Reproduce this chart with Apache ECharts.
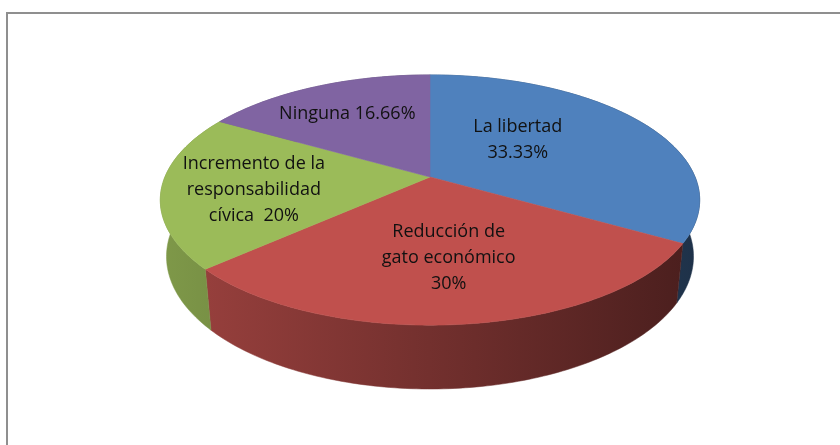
<!DOCTYPE html>
<html><head><meta charset="utf-8">
<script src="https://cdn.jsdelivr.net/npm/echarts@6/dist/echarts.min.js"></script>
<style>html,body{margin:0;padding:0;background:#fff}#c{width:840px;height:445px}</style>
</head><body><div id="c"></div>
<script>
// ---- data ----
const names = ['La libertad', 'Reducción de\ngato económico', 'Incremento de la\nresponsabilidad\ncívica', 'Ninguna'];
const values = [33.33, 30, 20, 16.66];
const valueSeparators = ['\n', '\n', '  ', ' '];

// ---- style / geometry ----
const colors = ['#4F81BD', '#C0504D', '#9BBB59', '#8064A2'];
const CX = 430, CY = 177;
const TS = 0.456, TC = 0.891, DIST = 4.84, FOCAL = 1283, THICK = 0.241;
const labelRadius = [0.48, 0.6, 0.66, 0.67];
const labelShift = [-13, 0, -3, -1];
const FONT = '18px "Open Sans", "Liberation Sans", sans-serif';

const total = values.reduce((a, b) => a + b, 0);
const starts = [];
values.reduce((acc, v, i) => { starts[i] = acc; return acc + v; }, 0);

function project(theta, r, z) {
  const a = theta * Math.PI / 180;
  const X = r * Math.sin(a), Y = r * Math.cos(a);
  const up = Y * TS + z * TC;
  const depth = DIST + Y * TC - z * TS;
  return [CX + FOCAL * X / depth, CY - FOCAL * up / depth];
}
function shade(hex, f) {
  const n = parseInt(hex.slice(1), 16);
  const r = Math.round(((n >> 16) & 255) * f), g = Math.round(((n >> 8) & 255) * f), b = Math.round((n & 255) * f);
  return 'rgb(' + r + ',' + g + ',' + b + ')';
}
function angles(i, v) {
  const a0 = starts[i] * 360 / total;
  return [a0, a0 + v * 360 / total];
}
function arc(a0, a1, z, rev) {
  const pts = [];
  const n = Math.max(2, Math.ceil((a1 - a0) / 1));
  for (let k = 0; k <= n; k++) {
    const t = a0 + (a1 - a0) * k / n;
    pts.push(project(t, 1, z));
  }
  return rev ? pts.reverse() : pts;
}

const chart = echarts.init(document.getElementById('c'), null, { renderer: 'canvas' });
chart.setOption({
  animation: false,
  graphic: [{
    type: 'rect', silent: true, z: 0,
    shape: { x: 7, y: 13, width: 900, height: 600 },
    style: { fill: 'none', stroke: '#8f8f8f', lineWidth: 2 }
  }],
  series: [
    {
      type: 'custom', coordinateSystem: 'none', silent: true, z: 2,
      data: values,
      renderItem: function (params, api) {
        const i = params.dataIndex;
        const [a0, a1] = angles(i, api.value(0));
        const pts = arc(a0, a1, 0, false).concat(arc(a0, a1, -THICK, true));
        const grad = new echarts.graphic.LinearGradient(158, 0, 700, 0, [
          { offset: 0, color: shade(colors[i], 0.82) },
          { offset: 0.5, color: shade(colors[i], 0.6) },
          { offset: 1, color: shade(colors[i], 0.38) }
        ], true);
        return { type: 'polygon', shape: { points: pts }, style: { fill: grad, stroke: grad, lineWidth: 0.5 } };
      }
    },
    {
      type: 'custom', coordinateSystem: 'none', silent: true, z: 3,
      data: values,
      renderItem: function (params, api) {
        const i = params.dataIndex;
        const v = api.value(0);
        const [a0, a1] = angles(i, v);
        const pts = [project(0, 0, 0)].concat(arc(a0, a1, 0, false));
        const mid = (a0 + a1) / 2 + labelShift[i];
        const lp = project(mid, labelRadius[i], 0);
        return {
          type: 'group',
          children: [
            { type: 'polygon', z2: 1, shape: { points: pts }, style: { fill: colors[i], stroke: colors[i], lineWidth: 0.6 } },
            { type: 'text', z2: 50, style: {
                text: names[i] + valueSeparators[i] + v + '%',
                x: lp[0], y: lp[1], align: 'center', verticalAlign: 'middle',
                font: FONT, lineHeight: 26, fill: '#111' } }
          ]
        };
      }
    }
  ]
});
</script>
</body></html>
